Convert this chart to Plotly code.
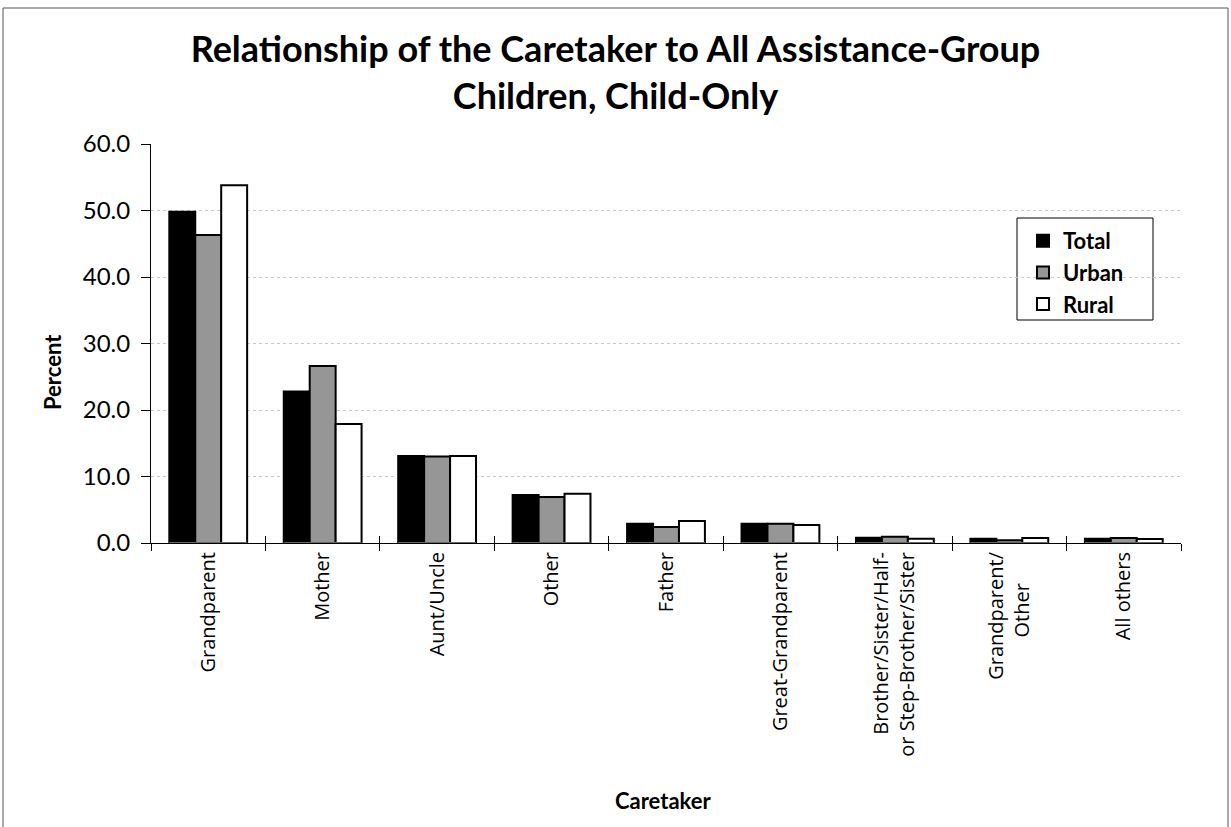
import plotly.graph_objects as go

categories = ["Grandparent", "Mother", "Aunt/Uncle", "Other", "Father", "Great-Grandparent",
              "Brother/Sister/Half-<br>or Step-Brother/Sister",
              "Grandparent/<br>Other&nbsp;&nbsp;&nbsp;&nbsp;&nbsp;&nbsp;", "All others"]
total = [49.8, 22.8, 13.1, 7.2, 2.9, 2.9, 0.8, 0.65, 0.65]
urban = [46.3, 26.6, 13.0, 6.9, 2.4, 2.9, 0.95, 0.4, 0.75]
rural = [53.8, 17.9, 13.1, 7.4, 3.3, 2.7, 0.65, 0.75, 0.6]
series_names = ["Total", "Urban", "Rural"]
series_colors = ["#000000", "#969696", "#ffffff"]
y_ticks = [0, 10, 20, 30, 40, 50, 60]

FONT = "Lato"
TICKFONT = "Open Sans"
fig = go.Figure()
for name, vals, col in zip(series_names, [total, urban, rural], series_colors):
    fig.add_trace(go.Bar(name=name, x=categories, y=vals,
                         marker=dict(color=col, line=dict(color="black", width=2))))

L, R, T, B = 151, 50, 144, 284
W, H = 1231, 827
pw, ph = W - L - R, H - T - B

def px_x(x):
    return (x - L) / pw

def px_y(y):
    return (H - B - y) / ph

fig.update_layout(
    width=W, height=H, barmode="group", bargap=0.32, bargroupgap=0,
    plot_bgcolor="white", paper_bgcolor="white",
    margin=dict(l=L, r=R, t=T, b=B, autoexpand=False),
    font=dict(family=FONT, color="black"),
    title=dict(text="<b>Relationship of the Caretaker to All Assistance-Group<br>Children, Child-Only</b>",
               x=0.5, xanchor="center", y=(H - 62) / H, yanchor="middle", font=dict(size=36, family=FONT)),
    legend=dict(x=px_x(1023), y=px_y(220), xanchor="left", yanchor="top",
                borderwidth=0, bgcolor="rgba(0,0,0,0)",
                font=dict(size=22, family=FONT, weight="bold"), tracegroupgap=2, itemwidth=30),
    xaxis=dict(showline=True, linecolor="black", linewidth=1, ticks="outside", ticklen=7, tickcolor="black",
               tickson="boundaries", tickangle=-90, tickfont=dict(size=20, family=TICKFONT)),
    xaxis2=dict(overlaying="x", matches="x", showline=False, ticks="inside", ticklen=7, tickcolor="black",
                tickson="boundaries", showticklabels=False, side="bottom", anchor="y", showgrid=False),
    yaxis=dict(range=[0, 60], tickvals=y_ticks, tickformat=".1f", showline=True, linecolor="black", linewidth=1,
               ticks="outside", ticklen=9, tickcolor="black", tickfont=dict(size=24, family=FONT),
               ticklabelstandoff=6,
               showgrid=True, gridcolor="#c8c8c8", griddash="dot", gridwidth=1, zeroline=False),
)
fig.add_trace(go.Bar(x=categories, y=[0] * len(categories), xaxis="x2", showlegend=False, hoverinfo="skip",
                     marker=dict(color="rgba(0,0,0,0)")))
# axis titles as annotations for exact placement
fig.add_annotation(text="<b>Percent</b>", xref="paper", yref="paper", x=px_x(52), y=px_y(372),
                   textangle=-90, showarrow=False, font=dict(size=22, family=FONT),
                   xanchor="center", yanchor="middle")
fig.add_annotation(text="<b>Caretaker</b>", xref="paper", yref="paper", x=px_x(663), y=px_y(801),
                   showarrow=False, font=dict(size=22, family=FONT), xanchor="center", yanchor="middle")
# legend box
fig.add_shape(type="rect", xref="paper", yref="paper",
              x0=px_x(1017), x1=px_x(1153), y0=px_y(320), y1=px_y(218),
              line=dict(color="black", width=1), fillcolor="white", layer="below")
# outer border
fig.add_shape(type="rect", xref="paper", yref="paper",
              x0=px_x(3), x1=px_x(1228), y0=px_y(840), y1=px_y(8),
              line=dict(color="#555555", width=1))
fig.write_html("out.html", post_script="document.body.style.margin='0px';",
               config={"displayModeBar": False})
